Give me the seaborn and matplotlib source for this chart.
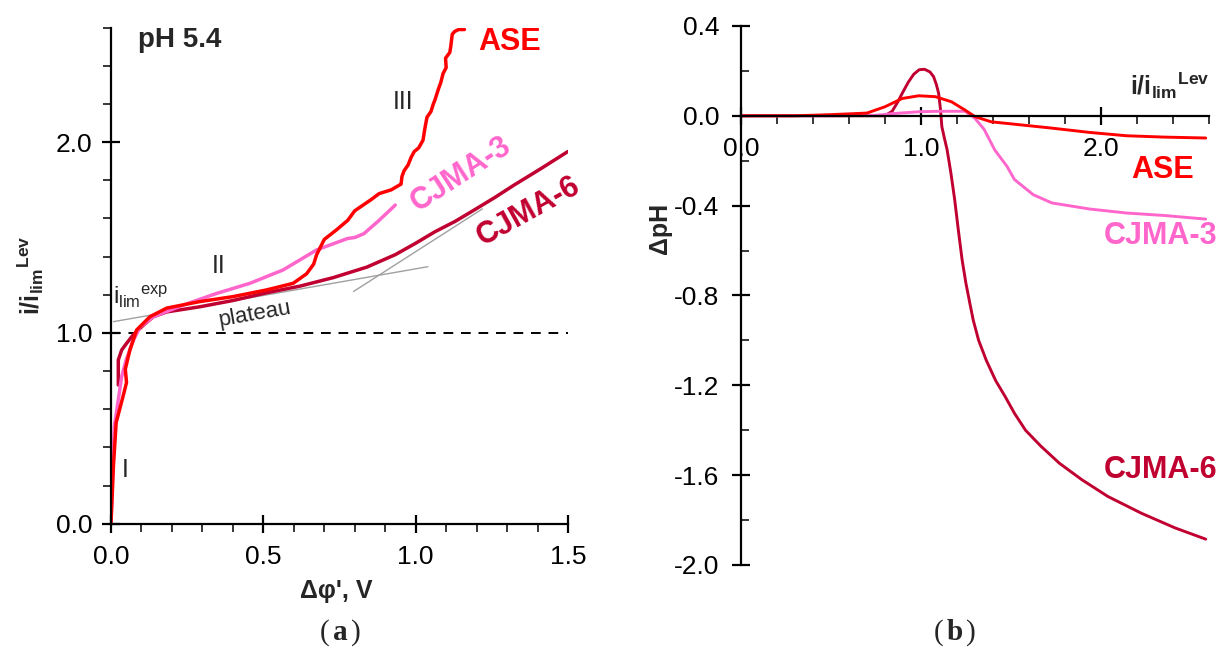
import numpy as np
import matplotlib
matplotlib.use("Agg")
import matplotlib.pyplot as plt
import seaborn as sns
from matplotlib.ticker import MultipleLocator

# ---- panel (a): current-voltage curves, pH 5.4 ----
ase_dphi = [0.000, 0.004, 0.008, 0.017, 0.040, 0.051, 0.047, 0.062, 0.084, 0.128, 0.183,
            0.291, 0.400, 0.510, 0.598, 0.642, 0.665, 0.675, 0.700, 0.740, 0.777, 0.800,
            0.855, 0.880, 0.920, 0.952, 0.955, 0.962, 0.975, 0.985, 0.995, 1.010, 1.024,
            1.030, 1.037, 1.050, 1.058, 1.063, 1.075, 1.082, 1.090, 1.100, 1.098, 1.112,
            1.115, 1.120, 1.128, 1.141, 1.160]
ase_i = [0.00, 0.15, 0.30, 0.53, 0.67, 0.74, 0.81, 0.91, 1.015, 1.085, 1.13,
         1.164, 1.19, 1.225, 1.26, 1.31, 1.36, 1.41, 1.49, 1.54, 1.59, 1.64,
         1.70, 1.73, 1.75, 1.78, 1.82, 1.85, 1.88, 1.92, 1.95, 1.97, 2.01,
         2.07, 2.13, 2.16, 2.20, 2.22, 2.28, 2.31, 2.36, 2.39, 2.44, 2.47,
         2.50, 2.565, 2.58, 2.59, 2.59]

cj3_dphi = [0.000, 0.004, 0.008, 0.011, 0.024, 0.035, 0.050, 0.073, 0.095, 0.139, 0.237,
            0.347, 0.456, 0.565, 0.675, 0.777, 0.800, 0.830, 0.880, 0.933]
cj3_i = [0.00, 0.20, 0.386, 0.51, 0.65, 0.77, 0.86, 0.96, 1.03, 1.085, 1.146,
         1.207, 1.26, 1.33, 1.435, 1.495, 1.50, 1.52, 1.59, 1.67]

cj6_dphi = [0.024, 0.024, 0.035, 0.051, 0.073, 0.106, 0.139, 0.183, 0.292, 0.401, 0.510,
            0.620, 0.730, 0.840, 0.933, 1.000, 1.063, 1.130, 1.193, 1.260, 1.323, 1.410,
            1.499]
cj6_i = [0.727, 0.858, 0.91, 0.945, 0.99, 1.04, 1.085, 1.11, 1.137, 1.17, 1.21,
         1.245, 1.29, 1.345, 1.41, 1.47, 1.53, 1.585, 1.645, 1.71, 1.775, 1.86, 1.95]

# tangent construction lines
tan1_x = [0.008, 1.04]
tan1_y = [1.059, 1.347]
tan2_x = [0.796, 1.219]
tan2_y = [1.217, 1.65]

# ---- panel (b): pH change vs normalised current ----
ase_r = [0.0, 0.3, 0.5, 0.7, 0.8, 0.896, 0.988, 1.08, 1.17, 1.245, 1.30, 1.39, 1.50,
         1.726, 1.934, 2.14, 2.35, 2.58]
ase_ph = [0.0, 0.0, 0.005, 0.012, 0.04, 0.077, 0.089, 0.085, 0.062, 0.025, -0.004,
          -0.027, -0.036, -0.055, -0.074, -0.089, -0.095, -0.099]

cj3_r = [0.0, 0.5, 0.75, 0.85, 0.99, 1.1, 1.245, 1.30, 1.35, 1.41, 1.477, 1.519,
         1.622, 1.726, 1.934, 2.14, 2.35, 2.58]
cj3_ph = [0.0, 0.0, 0.002, 0.01, 0.018, 0.02, 0.02, -0.012, -0.06, -0.153, -0.225,
          -0.284, -0.351, -0.388, -0.415, -0.433, -0.444, -0.46]

cj6_r = [0.0, 0.5, 0.80, 0.84, 0.87, 0.896, 0.93, 0.96, 0.99, 1.02, 1.05, 1.07, 1.085,
         1.098, 1.108, 1.116, 1.13, 1.145, 1.166, 1.187, 1.207, 1.228, 1.249, 1.27,
         1.29, 1.32, 1.363, 1.415, 1.467, 1.519, 1.58, 1.664, 1.768, 1.892, 2.037,
         2.224, 2.41, 2.58]
cj6_ph = [0.0, 0.0, 0.0, 0.02, 0.06, 0.10, 0.15, 0.185, 0.205, 0.207, 0.195, 0.174, 0.14,
          0.10, 0.03, -0.049, -0.10, -0.151, -0.255, -0.373, -0.507, -0.64, -0.744, -0.83,
          -0.91, -1.0, -1.09, -1.18, -1.25, -1.325, -1.40, -1.47, -1.547, -1.62, -1.695,
          -1.77, -1.835, -1.885]

C_ASE = "#ff0000"
C_CJ3 = "#ff66cc"
C_CJ6 = "#c00030"

sns.set_style("ticks")
plt.rcParams["font.family"] = ["Liberation Sans", "DejaVu Sans"]
plt.rcParams["mathtext.fontset"] = "custom"
plt.rcParams["mathtext.rm"] = "Liberation Sans"
plt.rcParams["mathtext.bf"] = "Liberation Sans:bold"
plt.rcParams["mathtext.it"] = "Liberation Sans:italic"

fig = plt.figure(figsize=(12.25, 6.53), dpi=100)
ax1 = fig.add_axes([0.0906, 0.198, 0.3731, 0.7597])
ax2 = fig.add_axes([0.6047, 0.1348, 0.3825, 0.8255])


def style_axis(ax):
    for s in ["top", "right"]:
        ax.spines[s].set_visible(False)
    for s in ["left", "bottom"]:
        ax.spines[s].set_linewidth(1.6)
        ax.spines[s].set_color("black")
    ax.tick_params(which="major", direction="inout", length=13, width=1.6,
                   labelsize=19, colors="black")
    ax.tick_params(which="minor", direction="out", length=6, width=1.3)


# panel (a)
sns.lineplot(x=tan1_x, y=tan1_y, ax=ax1, color="#a0a0a0", lw=1.0, sort=False, estimator=None)
sns.lineplot(x=tan2_x, y=tan2_y, ax=ax1, color="#a0a0a0", lw=1.0, sort=False, estimator=None)
ax1.plot([0, 1.5], [1.0, 1.0], color="black", lw=1.4, ls=(0, (5, 4)))
sns.lineplot(x=cj6_dphi, y=cj6_i, ax=ax1, color=C_CJ6, lw=2.5, sort=False, estimator=None)
sns.lineplot(x=cj3_dphi, y=cj3_i, ax=ax1, color=C_CJ3, lw=2.5, sort=False, estimator=None)
sns.lineplot(x=ase_dphi, y=ase_i, ax=ax1, color=C_ASE, lw=2.5, sort=False, estimator=None)

ax1.set_xlim(0, 1.5)
ax1.set_ylim(0, 2.6)
ax1.xaxis.set_major_locator(MultipleLocator(0.5))
ax1.xaxis.set_minor_locator(MultipleLocator(0.1))
ax1.yaxis.set_major_locator(MultipleLocator(1.0))
ax1.yaxis.set_minor_locator(MultipleLocator(0.2))
ax1.xaxis.set_major_formatter(plt.FormatStrFormatter("%.1f"))
ax1.yaxis.set_major_formatter(plt.FormatStrFormatter("%.1f"))
style_axis(ax1)
ax1.tick_params(axis="x", which="major", pad=9)
ax1.tick_params(axis="y", which="major", pad=7)

ax1.set_xlabel("Δφ', V", fontsize=18, fontweight="bold")
ax1.xaxis.set_label_coords(0.492, -0.112)
ax1.set_ylabel(r"$\mathbf{i/{i_{lim}}^{Lev}}$", fontsize=18)
ax1.yaxis.set_label_coords(-0.175, 0.50)
ax1.yaxis.label.set_va("center")

ax1.text(0.089, 2.535, "pH 5.4", fontsize=20, fontweight="bold", va="center", ha="left")
ax1.text(1.205, 2.525, "ASE", fontsize=22, fontweight="bold", color=C_ASE, va="center", ha="left")
ax1.text(0.96, 2.21, "III", fontsize=18, va="center", ha="center")
ax1.text(1.15, 1.83, "CJMA-3", fontsize=22, fontweight="bold", color=C_CJ3,
         rotation=33, va="center", ha="center", rotation_mode="anchor")
ax1.text(1.37, 1.635, "CJMA-6", fontsize=22, fontweight="bold", color=C_CJ6,
         rotation=29, va="center", ha="center", rotation_mode="anchor")
ax1.text(0.354, 1.35, "II", fontsize=18, va="center", ha="center")
ax1.text(0.008, 1.19, r"$\mathrm{{i_{lim}}^{exp}}$", fontsize=17, va="center", ha="left")
ax1.text(0.473, 1.10, "plateau", fontsize=16, rotation=10, va="center", ha="center",
         rotation_mode="anchor")
ax1.text(0.046, 0.28, "I", fontsize=18, va="center", ha="center")

# panel (b)
sns.lineplot(x=cj6_r, y=cj6_ph, ax=ax2, color=C_CJ6, lw=2.1, sort=False, estimator=None)
sns.lineplot(x=cj3_r, y=cj3_ph, ax=ax2, color=C_CJ3, lw=2.1, sort=False, estimator=None)
sns.lineplot(x=ase_r, y=ase_ph, ax=ax2, color=C_ASE, lw=2.1, sort=False, estimator=None)

ax2.set_xlim(0, 2.6)
ax2.set_ylim(-2.0, 0.4)
ax2.xaxis.set_major_locator(MultipleLocator(1.0))
ax2.xaxis.set_minor_locator(MultipleLocator(0.2))
ax2.yaxis.set_major_locator(MultipleLocator(0.4))
ax2.yaxis.set_minor_locator(MultipleLocator(0.2))
ax2.xaxis.set_major_formatter(plt.FormatStrFormatter("%.1f"))
ax2.yaxis.set_major_formatter(plt.FormatStrFormatter("%.1f"))
style_axis(ax2)
ax2.spines["bottom"].set_position(("data", 0))
ax2.tick_params(axis="y", which="minor", direction="in")
ax2.tick_params(axis="x", which="major", pad=9)
ax2.tick_params(axis="y", which="major", pad=9)

ax2.set_xlabel("")
ax2.set_ylabel("ΔpH", fontsize=18, fontweight="bold")
ax2.yaxis.set_label_coords(-0.172, 0.625)
ax2.yaxis.label.set_va("center")

ax2.text(2.38, 0.132, r"$\mathbf{i/{i_{lim}}^{Lev}}$", fontsize=18, va="center", ha="center")
ax2.text(2.343, -0.242, "ASE", fontsize=22, fontweight="bold", color=C_ASE, va="center", ha="center")
ax2.text(2.33, -0.536, "CJMA-3", fontsize=22, fontweight="bold", color=C_CJ3, va="center",
         ha="center", clip_on=False)
ax2.text(2.33, -1.577, "CJMA-6", fontsize=22, fontweight="bold", color=C_CJ6, va="center",
         ha="center", clip_on=False)

# panel letters
for xc, letter in [(0.2776, "a"), (0.7796, "b")]:
    fig.text(xc - 0.009, 0.032, "(", fontsize=21, family="Liberation Serif", ha="right", va="center")
    fig.text(xc, 0.032, letter, fontsize=21, family="Liberation Serif", fontweight="bold",
             ha="center", va="center")
    fig.text(xc + 0.009, 0.032, ")", fontsize=21, family="Liberation Serif", ha="left", va="center")

fig.savefig("out.png", dpi=100)
